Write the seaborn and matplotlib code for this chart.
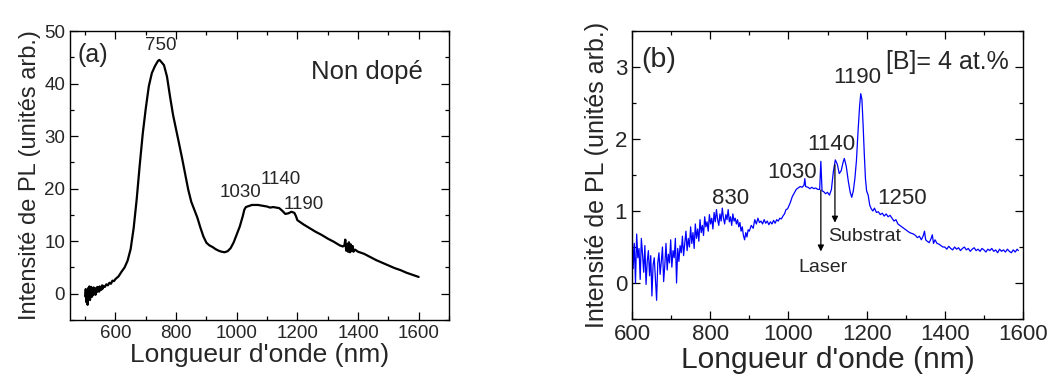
import matplotlib
matplotlib.use("Agg")
import matplotlib.pyplot as plt
import pandas as pd
import seaborn as sns
from matplotlib.ticker import MultipleLocator

# Panel (a): undoped sample
a_nm = [500, 502, 504, 506, 508, 510, 512, 514, 516, 518, 520, 522, 524, 526, 528, 530, 532, 534, 536, 538,
        540, 542, 544, 546, 548, 550, 552, 554, 556, 558, 560, 565, 570, 575, 580, 585, 590, 595, 600,
        610, 620, 630, 640, 650, 660, 670, 680, 690, 700, 710, 720, 730, 740, 745, 750, 760, 770, 780,
        790, 800, 810, 820, 830, 840, 850, 860, 870, 880, 890, 900, 910, 920, 930, 940, 950, 960, 970,
        980, 990, 1000, 1010, 1020, 1025, 1030, 1040, 1050, 1060, 1070, 1080, 1090, 1100, 1110, 1120,
        1130, 1140, 1150, 1160, 1170, 1180, 1190, 1195, 1200, 1210, 1220, 1240, 1260, 1280, 1300, 1320,
        1340, 1350, 1355, 1358, 1361, 1364, 1367, 1370, 1373, 1376, 1379, 1382, 1385, 1390, 1400, 1420,
        1440, 1460, 1480, 1500, 1520, 1540, 1560, 1580, 1600]
a_pl = [-0.5, 0.9, -1.6, 0.4, -2.1, 1.1, -0.9, 1.4, -1.2, 0.5, 1.3, -0.6, 0.8, -0.3, 1.2, 0.1, 0.9, -0.2, 1.1, 0.3,
        1.3, 0.5, 1.2, 0.4, 1.4, 0.7, 1.2, 0.8, 1.6, 1.0, 1.5, 1.3, 1.8, 1.6, 2.1, 1.9, 2.5, 2.4, 2.8,
        3.3, 4.2, 5.0, 6.3, 8.5, 12.5, 18.0, 24.5, 30.5, 35.3, 39.5, 42.0, 43.3, 44.3, 44.5, 44.2, 43.5, 41.3, 37.5,
        34.0, 31.3, 28.5, 25.7, 22.7, 19.8, 17.5, 16.0, 14.5, 12.6, 10.9, 9.7, 9.2, 8.9, 8.5, 8.2, 8.0, 7.9, 8.1,
        8.7, 9.8, 11.3, 12.8, 14.8, 16.0, 16.5, 16.7, 16.9, 16.9, 16.9, 16.8, 16.7, 16.6, 16.4, 16.5,
        16.4, 16.3, 15.8, 15.2, 15.3, 15.6, 15.4, 14.8, 14.0, 13.6, 13.2, 12.5, 11.8, 11.2, 10.5, 9.9,
        9.2, 9.0, 9.2, 10.3, 8.2, 9.5, 8.0, 9.8, 7.9, 9.4, 8.1, 9.1, 8.0, 8.4, 8.0, 7.6,
        7.0, 6.4, 5.9, 5.4, 4.9, 4.5, 4.0, 3.6, 3.2]

# Panel (b): [B] = 4 at.%
b_nm = [600, 603, 606, 609, 612, 615, 618, 621, 624, 627, 630, 633, 636, 639, 642, 645, 648, 651, 654, 657,
        660, 663, 666, 669, 672, 675, 678, 681, 684, 687, 690, 693, 696, 699, 702, 705, 708, 711, 714, 717,
        720, 723, 726, 729, 732, 735, 738, 741, 744, 747, 750, 753, 756, 759, 762, 765, 768, 771, 774, 777,
        780, 783, 786, 789, 792, 795, 798, 801, 804, 807, 810, 813, 816, 819, 822, 825, 828, 831, 834, 837,
        840, 843, 846, 849, 852, 855, 858, 861, 864, 867, 870, 873, 876, 879, 882, 885, 888, 891, 894, 897,
        900, 905, 910, 914, 918, 922, 926, 930, 934, 938, 942, 946, 950, 954, 958, 962, 966, 970, 974, 978,
        982, 986, 990, 994, 998, 1005, 1010, 1015, 1020, 1025, 1030, 1035, 1040, 1042, 1044, 1050, 1055,
        1060, 1065, 1070, 1075, 1080, 1083, 1086, 1090, 1095, 1100, 1105, 1110, 1115, 1120, 1125, 1130,
        1135, 1140, 1143, 1148, 1153, 1158, 1162, 1166, 1170, 1174, 1178, 1182, 1185, 1188, 1191, 1194,
        1197, 1200, 1204, 1208, 1212, 1216, 1220, 1225, 1230, 1235, 1240, 1245, 1250, 1255, 1260, 1265,
        1270, 1275, 1280, 1285, 1290, 1295, 1300, 1305, 1310, 1315, 1320, 1325, 1330, 1335, 1340, 1345,
        1348, 1351, 1355, 1360, 1365, 1368, 1371, 1375, 1380, 1385, 1390, 1395, 1400, 1405, 1410, 1415,
        1420, 1425, 1430, 1435, 1440, 1445, 1450, 1455, 1460, 1465, 1470, 1475, 1480, 1485, 1490, 1495,
        1500, 1505, 1510, 1515, 1520, 1525, 1530, 1535, 1540, 1545, 1550, 1555, 1560, 1565, 1570, 1575,
        1580, 1585, 1588]
b_pl = [0.82, 0.20, 0.55, 0.00, 0.68, 0.35, 0.48, 0.05, 0.62, 0.40, 0.15, 0.52, -0.02, 0.30, 0.45, 0.10, 0.38, -0.18, 0.25, 0.35,
        0.05, -0.24, 0.28, 0.42, 0.12, 0.30, 0.50, 0.02, 0.25, 0.55, 0.18, 0.40, 0.28, 0.60, 0.22, 0.45, 0.35, 0.62, 0.00, 0.48,
        0.30, 0.52, 0.42, 0.65, 0.38, 0.55, 0.72, 0.45, 0.62, 0.50, 0.78, 0.55, 0.70, 0.48, 0.82, 0.62, 0.75, 0.58, 0.88, 0.70,
        0.80, 0.66, 0.92, 0.78, 0.85, 0.72, 0.95, 0.82, 0.90, 0.75, 0.98, 0.85, 1.02, 0.88, 0.80, 0.96, 0.86, 1.04, 0.90, 0.82,
        0.95, 0.88, 1.02, 0.85, 0.92, 0.80, 0.96, 0.86, 0.90, 0.82, 0.88, 0.78, 0.84, 0.72, 0.78, 0.66, 0.60, 0.70, 0.64, 0.74,
        0.72, 0.80, 0.76, 0.88, 0.82, 0.90, 0.84, 0.86, 0.82, 0.88, 0.83, 0.86, 0.81, 0.85, 0.82, 0.87, 0.83, 0.88, 0.86, 0.90,
        0.89, 0.93, 0.96, 1.02, 1.03, 1.12, 1.20, 1.25, 1.30, 1.32, 1.34, 1.33, 1.36, 1.45, 1.34, 1.33, 1.31,
        1.33, 1.31, 1.32, 1.30, 1.30, 1.69, 1.28, 1.27, 1.24, 1.26, 1.22, 1.30, 1.55, 1.71, 1.65, 1.52,
        1.56, 1.68, 1.73, 1.62, 1.42, 1.26, 1.19, 1.28, 1.45, 1.70, 2.10, 2.45, 2.63, 2.55, 2.20, 1.80,
        1.45, 1.28, 1.22, 1.08, 1.03, 1.00, 1.04, 0.98, 0.99, 0.95, 0.97, 0.93, 0.96, 0.92, 0.94, 0.90,
        0.86, 0.88, 0.82, 0.80, 0.78, 0.76, 0.74, 0.72, 0.70, 0.69, 0.68, 0.66, 0.63, 0.65, 0.60, 0.66,
        0.72, 0.60, 0.58, 0.56, 0.62, 0.67, 0.55, 0.60, 0.55, 0.54, 0.52, 0.50, 0.50, 0.47, 0.51, 0.48,
        0.46, 0.50, 0.47, 0.49, 0.45, 0.48, 0.50, 0.46, 0.48, 0.44, 0.47, 0.49, 0.45, 0.47, 0.44, 0.48,
        0.46, 0.43, 0.47, 0.45, 0.48, 0.44, 0.46, 0.42, 0.47, 0.44, 0.46, 0.43, 0.47, 0.44, 0.42, 0.46,
        0.43, 0.47, 0.45]

df_a = pd.DataFrame({"nm": a_nm, "pl": a_pl})
df_b = pd.DataFrame({"nm": b_nm, "pl": b_pl})

sns.set_style("ticks")
plt.rcParams['font.family'] = ['Liberation Sans', 'DejaVu Sans']

fig = plt.figure(figsize=(10.51, 3.81), dpi=100)
ax1 = fig.add_axes([0.0666, 0.160, 0.3606, 0.7586])
ax2 = fig.add_axes([0.6013, 0.1627, 0.3721, 0.7559])

sns.lineplot(data=df_a, x="nm", y="pl", ax=ax1, color="black", lw=1.6, estimator=None, sort=False)
sns.lineplot(data=df_b, x="nm", y="pl", ax=ax2, color="#0000ff", lw=0.9, estimator=None, sort=False)

# axes (a)
ax1.set_xlim(450, 1700)
ax1.set_ylim(-5, 50)
ax1.xaxis.set_minor_locator(MultipleLocator(100))
ax1.yaxis.set_major_locator(MultipleLocator(10))
ax1.yaxis.set_minor_locator(MultipleLocator(5))
ax1.set_xticks([600, 800, 1000, 1200, 1400, 1600])
ax1.set_xlabel("Longueur d'onde (nm)", fontsize=19, labelpad=1)
ax1.set_ylabel("Intensité de PL (unités arb.)", fontsize=17, labelpad=2)
ax1.tick_params(labelsize=13.5)

ax1.text(524, 45.4, "(a)", fontsize=18, ha="center", va="center")
ax1.text(748, 47.2, "750", fontsize=13.5, ha="center", va="center")
ax1.text(1429, 42.2, "Non dopé", fontsize=18.5, ha="center", va="center")
ax1.text(1011, 19.2, "1030", fontsize=13.5, ha="center", va="center")
ax1.text(1146, 21.7, "1140", fontsize=13.5, ha="center", va="center")
ax1.text(1222, 16.9, "1190", fontsize=13.5, ha="center", va="center")

# axes (b)
ax2.set_xlim(600, 1600)
ax2.set_ylim(-0.5, 3.5)
ax2.xaxis.set_major_locator(MultipleLocator(200))
ax2.xaxis.set_minor_locator(MultipleLocator(100))
ax2.yaxis.set_minor_locator(MultipleLocator(0.5))
ax2.set_yticks([0, 1, 2, 3])
ax2.set_xlabel("Longueur d'onde (nm)", fontsize=21.5, labelpad=1)
ax2.set_ylabel("Intensité de PL (unités arb.)", fontsize=18, labelpad=4)
ax2.tick_params(labelsize=16)

ax2.text(669, 3.10, "(b)", fontsize=20.5, ha="center", va="center")
ax2.text(1406, 3.07, "[B]= 4 at.%", fontsize=18, ha="center", va="center")
ax2.text(1175, 2.85, "1190", fontsize=16, ha="center", va="center")
ax2.text(1109, 1.93, "1140", fontsize=16, ha="center", va="center")
ax2.text(1009, 1.53, "1030", fontsize=16, ha="center", va="center")
ax2.text(853, 1.18, "830", fontsize=16, ha="center", va="center")
ax2.text(1291, 1.17, "1250", fontsize=16, ha="center", va="center")
ax2.text(1196, 0.64, "Substrat", fontsize=14, ha="center", va="center")
ax2.text(1089, 0.22, "Laser", fontsize=14, ha="center", va="center")

arrow = dict(arrowstyle="-|>", color="black", lw=0.9, mutation_scale=9)
ax2.annotate("", xy=(1083, 0.40), xytext=(1083, 1.33), arrowprops=arrow)
ax2.annotate("", xy=(1119, 0.80), xytext=(1119, 1.68), arrowprops=arrow)

for ax in (ax1, ax2):
    ax.tick_params(which="both", direction="in", top=True, right=True, color="black")
    ax.tick_params(which="major", length=6, width=0.9)
    ax.tick_params(which="minor", length=3, width=0.9)
    for s in ax.spines.values():
        s.set_linewidth(1.0)
        s.set_color("black")

fig.savefig("out.png", dpi=100)
